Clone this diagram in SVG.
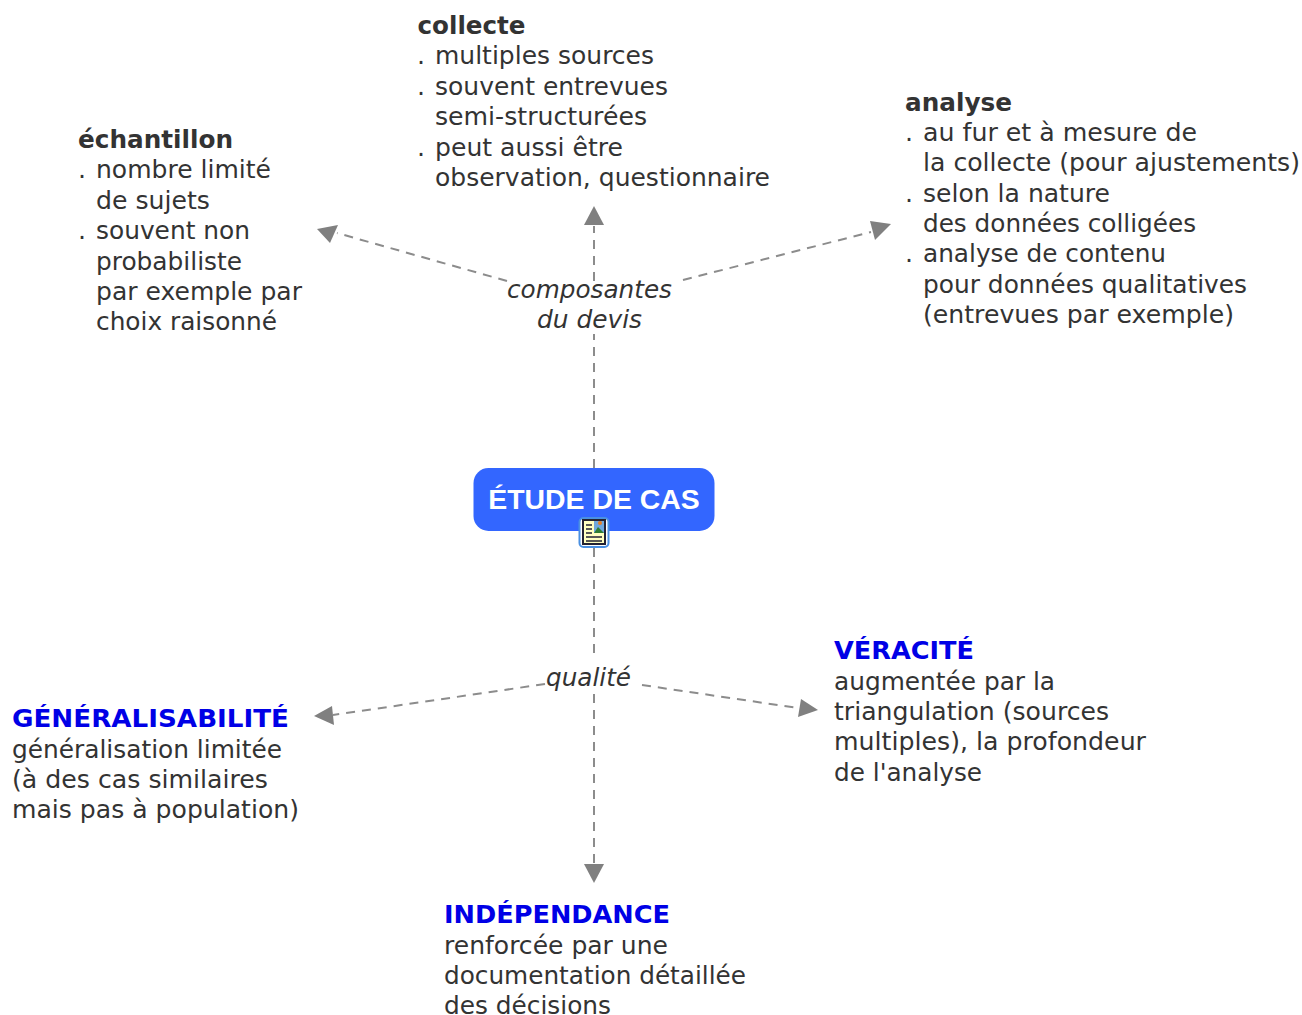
<svg xmlns="http://www.w3.org/2000/svg" width="1302" height="1015" viewBox="0 0 1302 1015">
<style>
text{font-family:"DejaVu Sans",Verdana,sans-serif;font-size:25.300px;fill:#333}
.h{font-weight:bold}
.b{font-weight:bold;fill:#0000e6}
.i{font-style:italic}
.c{stroke:#8c8c8c;stroke-width:2;stroke-dasharray:9 7;fill:none}
.a{fill:#808080}
</style>
<rect width="1302" height="1015" fill="#fff"/>
<g id="connectors">
<path class="c" d="M594 468V334M594 281V226"/>
<path class="c" d="M507 281L337 233"/>
<path class="c" d="M683 280L871 232"/>
<path class="c" d="M594 548V660M594 694V864"/>
<path class="c" d="M545 684L333 715"/>
<path class="c" d="M642 685L798 708"/>
<polygon class="a" points="594,206 604,225 584,225"/>
<polygon class="a" points="317,229 338,225 330,243"/>
<polygon class="a" points="891,224 875,240 870,221"/>
<polygon class="a" points="594,883 584,864 604,864"/>
<polygon class="a" points="314,716 332,706 334,725"/>
<polygon class="a" points="818,710 798,717 801,699"/>
</g>
<g id="composantes"><text class="i" x="507" y="298" textLength="165" lengthAdjust="spacingAndGlyphs">composantes</text><text class="i" x="537" y="328" textLength="105" lengthAdjust="spacingAndGlyphs">du devis</text></g>
<g id="qualite"><text class="i" x="546" y="686" textLength="85" lengthAdjust="spacingAndGlyphs">qualité</text></g>
<g id="etude">
<rect x="473.500" y="468" width="241" height="63" rx="15" fill="#3366ff"/>
<text x="594" y="509" text-anchor="middle" style="font-family:'Liberation Sans',Arial,sans-serif;font-weight:bold;font-size:28.400px;fill:#fff">ÉTUDE DE CAS</text>
<rect x="579.500" y="518" width="29" height="29" rx="4" fill="#fff" stroke="#4a90e2" stroke-width="2"/>
<rect x="583" y="520" width="22" height="24" fill="#ffffc0" stroke="#223" stroke-width="2"/>
<rect x="594" y="521" width="10" height="12" fill="#6fa8dc"/>
<path d="M594 533l4-6 3 3 3 3z" fill="#2e7d32"/>
<circle cx="600" cy="523" r="2" fill="#e67e22"/>
<path d="M586 525h6M586 529h6M586 533h6M586 537h16M586 541h16" stroke="#223" stroke-width="1.500"/>
</g>
<g id="echantillon">
<text x="78" y="148" class="h" textLength="155" lengthAdjust="spacingAndGlyphs">échantillon</text>
<text x="78" y="178">.</text><text x="96" y="178" textLength="175" lengthAdjust="spacingAndGlyphs">nombre limité</text>
<text x="96" y="209" textLength="114" lengthAdjust="spacingAndGlyphs">de sujets</text>
<text x="78" y="239">.</text><text x="96" y="239" textLength="154" lengthAdjust="spacingAndGlyphs">souvent non</text>
<text x="96" y="270" textLength="146" lengthAdjust="spacingAndGlyphs">probabiliste</text>
<text x="96" y="300" textLength="206" lengthAdjust="spacingAndGlyphs">par exemple par</text>
<text x="96" y="330" textLength="181" lengthAdjust="spacingAndGlyphs">choix raisonné</text>
</g>
<g id="collecte">
<text x="417.500" y="34" class="h" textLength="108" lengthAdjust="spacingAndGlyphs">collecte</text>
<text x="417" y="64">.</text><text x="435" y="64" textLength="219" lengthAdjust="spacingAndGlyphs">multiples sources</text>
<text x="417" y="95">.</text><text x="435" y="95" textLength="233" lengthAdjust="spacingAndGlyphs">souvent entrevues</text>
<text x="435" y="125" textLength="212" lengthAdjust="spacingAndGlyphs">semi-structurées</text>
<text x="417" y="156">.</text><text x="435" y="156" textLength="188" lengthAdjust="spacingAndGlyphs">peut aussi être</text>
<text x="435" y="186" textLength="335" lengthAdjust="spacingAndGlyphs">observation, questionnaire</text>
</g>
<g id="analyse">
<text x="905" y="111" class="h" textLength="107" lengthAdjust="spacingAndGlyphs">analyse</text>
<text x="905" y="141">.</text><text x="923" y="141" textLength="274" lengthAdjust="spacingAndGlyphs">au fur et à mesure de</text>
<text x="923" y="171" textLength="377" lengthAdjust="spacingAndGlyphs">la collecte (pour ajustements)</text>
<text x="905" y="202">.</text><text x="923" y="202" textLength="187" lengthAdjust="spacingAndGlyphs">selon la nature</text>
<text x="923" y="232" textLength="273" lengthAdjust="spacingAndGlyphs">des données colligées</text>
<text x="905" y="262">.</text><text x="923" y="262" textLength="243" lengthAdjust="spacingAndGlyphs">analyse de contenu</text>
<text x="923" y="293" textLength="324" lengthAdjust="spacingAndGlyphs">pour données qualitatives</text>
<text x="923" y="323" textLength="311" lengthAdjust="spacingAndGlyphs">(entrevues par exemple)</text>
</g>
<g id="generalisabilite">
<text x="12" y="727" class="b" textLength="277" lengthAdjust="spacingAndGlyphs">GÉNÉRALISABILITÉ</text>
<text x="12" y="758" textLength="270" lengthAdjust="spacingAndGlyphs">généralisation limitée</text>
<text x="12" y="788" textLength="256" lengthAdjust="spacingAndGlyphs">(à des cas similaires</text>
<text x="12" y="818" textLength="287" lengthAdjust="spacingAndGlyphs">mais pas à population)</text>
</g>
<g id="veracite">
<text x="834" y="659" class="b" textLength="140" lengthAdjust="spacingAndGlyphs">VÉRACITÉ</text>
<text x="834" y="690" textLength="221" lengthAdjust="spacingAndGlyphs">augmentée par la</text>
<text x="834" y="720" textLength="275" lengthAdjust="spacingAndGlyphs">triangulation (sources</text>
<text x="834" y="750" textLength="312" lengthAdjust="spacingAndGlyphs">multiples), la profondeur</text>
<text x="834" y="781" textLength="148" lengthAdjust="spacingAndGlyphs">de l'analyse</text>
</g>
<g id="independance">
<text x="444" y="923" class="b" textLength="226" lengthAdjust="spacingAndGlyphs">INDÉPENDANCE</text>
<text x="444" y="954" textLength="224" lengthAdjust="spacingAndGlyphs">renforcée par une</text>
<text x="444" y="984" textLength="302" lengthAdjust="spacingAndGlyphs">documentation détaillée</text>
<text x="444" y="1014" textLength="167" lengthAdjust="spacingAndGlyphs">des décisions</text>
</g>
</svg>
